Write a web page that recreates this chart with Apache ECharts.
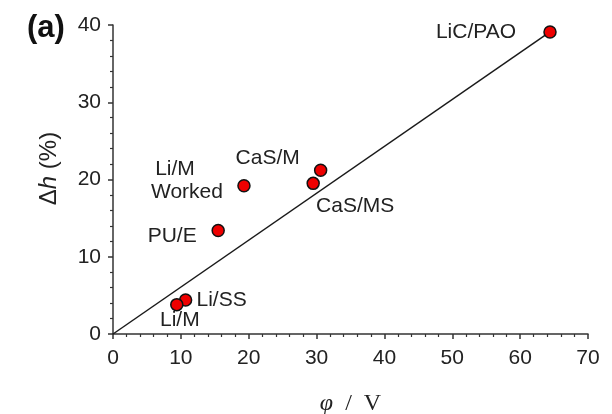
<!DOCTYPE html>
<html>
<head>
<meta charset="utf-8">
<script src="https://cdn.jsdelivr.net/npm/echarts@6/dist/echarts.min.js"></script>
<style>
  html, body { margin: 0; padding: 0; background: #fff; }
  #chart { width: 612px; height: 414px; }
</style>
</head>
<body>
<div id="chart"></div>
<script>
// Sample labels, potential φ (V) and height change Δh (%)
const names = ['LiC/PAO', 'CaS/M', 'CaS/MS', 'Li/M Worked', 'PU/E', 'Li/SS', 'Li/M'];
const phi = [64.4, 30.6, 29.5, 19.3, 15.5, 10.7, 9.4];
const dh = [39.1, 21.2, 19.5, 19.2, 13.4, 4.4, 3.8];

// Linear trend from the origin through the largest sample
const fitX = [0, 64.4];
const fitY = [0, 39.1];

const xTicks = [0, 10, 20, 30, 40, 50, 60, 70];
const yTicks = [0, 10, 20, 30, 40];

// Label placement (pixel offsets from each marker)
const labelOffsets = {
  'LiC/PAO': [-74, 0],
  'CaS/M': [-53, -12],
  'CaS/MS': [42, 23],
  'Li/M Worked': [-57, -5],
  'PU/E': [-46, 6],
  'Li/SS': [36, 0],
  'Li/M': [3, 16]
};

const font = '"Liberation Sans", Arial, sans-serif';
const serif = '"Liberation Serif", "DejaVu Serif", serif';
const fs = 21;

const points = names.map((n, i) => ({
  name: n,
  value: [phi[i], dh[i]],
  label: {
    offset: labelOffsets[n],
    formatter: n === 'Li/M Worked' ? '{a|Li/M}\n{b|Worked}' : n
  }
}));

const chart = echarts.init(document.getElementById('chart'), null, { renderer: 'canvas' });

const axisCommon = {
  axisLine: { show: true, lineStyle: { color: '#333', width: 1.5 } },
  axisTick: { show: true, inside: false, length: 5, lineStyle: { color: '#333', width: 1.5 } },
  minorTick: { show: true, splitNumber: 5, length: 3, lineStyle: { color: '#333', width: 1.2 } },
  splitLine: { show: false },
  axisLabel: { color: '#222', fontFamily: font, fontSize: fs }
};

chart.setOption({
  animation: false,
  backgroundColor: '#fff',
  grid: { left: 113, right: 24, top: 25, bottom: 80, containLabel: false, outerBoundsMode: 'none' },
  graphic: [{
    type: 'text',
    left: 27,
    top: 13,
    style: { text: '(a)', font: 'bold 31px ' + font, fill: '#111' }
  }],
  xAxis: Object.assign({}, axisCommon, {
    type: 'value',
    min: xTicks[0],
    max: xTicks[xTicks.length - 1],
    interval: 10,
    axisLabel: Object.assign({}, axisCommon.axisLabel, { margin: 14 }),
    name: '{i|φ}{n|  /  V}',
    nameLocation: 'middle',
    nameGap: 58,
    nameTextStyle: {
      rich: {
        i: { fontFamily: serif, fontStyle: 'italic', fontSize: 24, color: '#222' },
        n: { fontFamily: serif, fontSize: 24, color: '#222' }
      }
    }
  }),
  yAxis: Object.assign({}, axisCommon, {
    type: 'value',
    min: yTicks[0],
    max: yTicks[yTicks.length - 1],
    interval: 10,
    axisLabel: Object.assign({}, axisCommon.axisLabel, { margin: 12 }),
    name: '{n|Δ}{i|h}{n| (%)}',
    nameLocation: 'middle',
    nameRotate: 90,
    nameGap: 52,
    nameTextStyle: {
      padding: [0, 0, 0, 22],
      rich: {
        n: { fontFamily: font, fontSize: 24, color: '#222' },
        i: { fontFamily: font, fontStyle: 'italic', fontSize: 24, color: '#222' }
      }
    }
  }),
  series: [
    {
      type: 'line',
      data: fitX.map((x, i) => [x, fitY[i]]),
      showSymbol: false,
      symbol: 'none',
      lineStyle: { color: '#1a1a1a', width: 1.5 },
      z: 2,
      silent: true
    },
    {
      type: 'scatter',
      data: points,
      symbol: 'circle',
      symbolSize: 12,
      itemStyle: { color: '#ee0000', borderColor: '#111', borderWidth: 1.5, opacity: 1 },
      z: 3,
      label: {
        show: true,
        position: 'inside',
        align: 'center',
        verticalAlign: 'middle',
        fontFamily: font,
        fontSize: fs,
        color: '#222',
        lineHeight: 23,
        rich: {
          a: { fontFamily: font, fontSize: fs, color: '#222', padding: [0, 24, 0, 0], lineHeight: 23 },
          b: { fontFamily: font, fontSize: fs, color: '#222', lineHeight: 23 }
        }
      }
    }
  ]
});
</script>
</body>
</html>
